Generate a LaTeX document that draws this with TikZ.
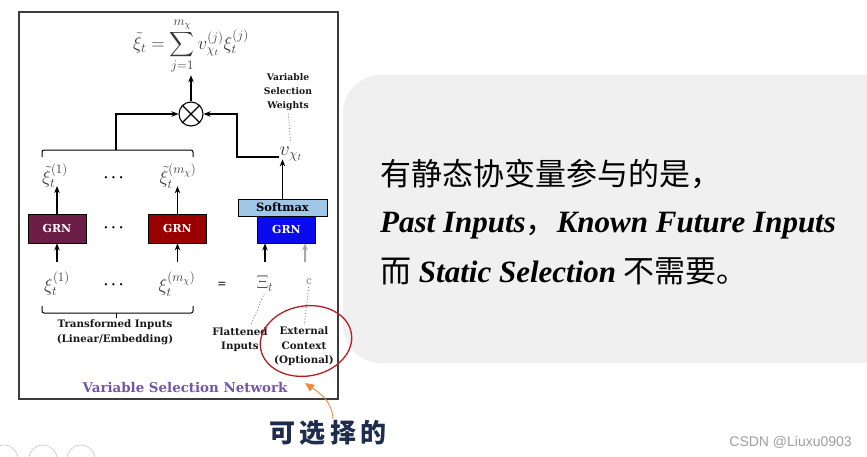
\RequirePackage{fix-cm}
\documentclass[tikz,border=0pt]{standalone}
\usepackage{amsmath}
\usepackage{fontspec}
\usetikzlibrary{arrows.meta,shapes.geometric}
\newfontfamily\labfont{DejaVu Serif}
\newfontfamily\cjkfont{Noto Sans CJK SC}
\newfontfamily\cjkhand[LetterSpace=16]{Noto Sans CJK SC}
\newfontfamily\timesfont{Liberation Serif}
\newfontfamily\wmfont{Liberation Sans}
\definecolor{framec}{HTML}{3C3C3C}
\definecolor{grnA}{HTML}{6B1D46}
\definecolor{grnB}{HTML}{9A0000}
\definecolor{grnC}{HTML}{0A0AEE}
\definecolor{softc}{HTML}{A0C6E8}
\definecolor{vsnc}{HTML}{7256A8}
\definecolor{circc}{HTML}{B21F24}
\definecolor{orangec}{HTML}{EE8A3E}
\definecolor{navyc}{HTML}{1E2C4E}
\definecolor{panelc}{HTML}{F0F0F0}
\definecolor{mathc}{HTML}{3A3A3A}
\tikzset{
 arr/.style={-{Stealth[length=7pt,width=5.5pt]},line width=1.1pt,black},
 lab/.style={font=\labfont\bfseries\fontsize{9.2}{14}\selectfont,align=center,inner sep=0pt,text=black!90},
 blab/.style={font=\labfont\bfseries\fontsize{10.3}{14.6}\selectfont,align=center,inner sep=0pt,text=black!90},
 grn/.style={draw=black,line width=0.8pt,minimum width=58pt,minimum height=29pt,inner sep=0pt,font=\labfont\bfseries\fontsize{11}{12}\selectfont,text=white},
 dotl/.style={dotted,line width=0.9pt,gray},
 mth/.style={text=mathc,inner sep=0pt,font=\fontsize{18.5}{22}\selectfont},
 dots/.style={inner sep=0pt,font=\fontsize{15}{16}\selectfont\boldmath},
 brk/.style={line width=1pt,rounded corners=2pt},
}
\begin{document}
\begin{tikzpicture}[x=1pt,y=-1pt]
\useasboundingbox (0,0) rectangle (867,456);
\fill[white] (0,0) rectangle (867,456);
% right panel
\fill[panelc,rounded corners=38pt] (343,75) rectangle (910,363);
% frame
\draw[framec,line width=1.4pt] (19,12) rectangle (338,399);
% formula
\node[mth] (formula) at (191,46) {$\displaystyle \tilde{\xi}_t=\sum_{j=1}^{m_\chi} v_{\chi_t}^{(j)}\xi_t^{(j)}$};
% otimes
\node[draw,circle,minimum size=24pt,inner sep=0pt,line width=1.1pt] (otimes) at (191,114) {};
\draw[line width=1.1pt] (otimes.north west) -- (otimes.south east) (otimes.north east) -- (otimes.south west);
\draw[arr] (otimes.north) -- ([yshift=-1pt]formula.south -| otimes.north);
% labels top right
\node[lab] (vsw) at (288,92) {Variable\\Selection\\Weights};
\node[mth,font=\fontsize{20}{22}\selectfont] (vchi) at (291,154) {$v_{\chi_t}$};
\draw[dotl,shorten <=3pt,shorten >=4pt] (vsw.south) -- (vchi.north);
% GRNs
\node[grn,fill=grnA] (g1) at (57,228.5) {GRN};
\node[grn,fill=grnB] (g2) at (177.5,228.5) {GRN};
\node[grn,fill=grnC,minimum height=27pt] (g3) at (286.5,229.5) {GRN};
\node[draw=black,line width=0.8pt,fill=softc,minimum width=89pt,minimum height=17pt,inner sep=0pt,font=\labfont\bfseries\fontsize{11.5}{12}\selectfont] (soft) at (282.5,207.5) {Softmax};
% xi tilde
\node[mth] (xt1) at (55,176) {$\tilde{\xi}_t^{(1)}$};
\node[mth] (xtm) at (178,176) {$\tilde{\xi}_t^{(m_\chi)}$};
\node[dots] (d1) at (115,178) {$\cdots$};
\node[dots] (d2) at (115,228) {$\cdots$};
\node[dots] (d3) at (115,285) {$\cdots$};
% bottom inputs
\node[mth] (x1) at (57,284) {$\xi_t^{(1)}$};
\node[mth] (xm) at (177,284) {$\xi_t^{(m_\chi)}$};
\node[inner sep=0pt,text=black!75,font=\labfont\bfseries\fontsize{11}{12}\selectfont] (eq) at (222,285) {=};
\node[mth,text=black!70] (Xi) at (265,284) {$\Xi_t$};
\node[inner sep=0pt,text=gray,font=\labfont\fontsize{10.5}{12}\selectfont] (cc) at (309,282) {c};
% arrows up
\draw[arr] (g1.north) -- ([yshift=2pt]xt1.south -| g1.north);
\draw[arr] (g2.north) -- ([yshift=2pt]xtm.south -| g2.north);
\draw[arr] ([yshift=-19pt]g1.south) -- (g1.south);
\draw[arr] ([yshift=-19pt]g2.south) -- (g2.south);
\draw[arr] ([yshift=-19pt]g3.south -| Xi.north) -- (g3.south -| Xi.north);
\draw[arr,gray!70] ([yshift=-19pt]g3.south -| 305,0) -- (g3.south -| 305,0);
\draw[arr] (soft.north) -- ([yshift=2pt]vchi.south -| soft.north);
% top bracket and links to otimes
\draw[brk] (42,157) -- (42,150) -- (193,150) -- (193,157);
\coordinate (bt) at (116,150);
\draw[arr] (bt) |- (otimes.west);
\coordinate (rc) at (237,157);
\draw[arr] (vchi.west |- rc) -- (rc) |- (otimes.east);
% bottom bracket
\draw[brk] (42,306) -- (42,313) -- (193,313) -- (193,306);
\draw[line width=1pt] (116,313) -- (116,318);
\node[blab] (ti) at (115,332.5) {Transformed Inputs\\(Linear/Embedding)};
\node[blab] (fi) at (240,339.5) {Flattened\\Inputs};
\node[blab] (ec) at (304,346.5) {External\\Context\\(Optional)};
\draw[dotl,shorten <=2pt,shorten >=2pt] (Xi.south) -- ([xshift=10pt]fi.north);
\draw[dotl,shorten <=2pt,shorten >=2pt] (cc.south) -- (ec.north);
\node[font=\labfont\bfseries\fontsize{13.4}{15}\selectfont,text=vsnc,inner sep=0pt] (vsn) at (185,387) {Variable Selection Network};
% red oval
\node[ellipse,draw=circc,line width=1.3pt,minimum width=92pt,minimum height=70pt,inner sep=0pt,rotate=10] (oval) at (306,341) {};
% handwritten note
\node[text=navyc,inner sep=0pt,font=\cjkhand\bfseries\fontsize{26}{28}\selectfont] (hand) at (328,433) {可选择的};
\coordinate (hs) at (333,419);
\coordinate (tip) at (305,383);
\draw[orangec,line width=0.9pt,-{Triangle[length=9pt,width=8pt]}] (hs) .. controls (332,400) and (318,392) .. (tip);
% right text
\node[anchor=base west,inner sep=0pt,font=\cjkfont\fontsize{31}{34}\selectfont] (l1) at (380,185) {有静态协变量参与的是，};
\node[anchor=base west,inner sep=0pt,font=\fontsize{31}{34}\selectfont] (l2) at (380,232) {{\timesfont\bfseries\itshape Past Inputs}{\cjkfont ，}{\timesfont\bfseries\itshape Known Future Inputs}};
\node[anchor=base west,inner sep=0pt,font=\fontsize{31}{34}\selectfont] (l3) at (380,282) {{\cjkfont 而}{\timesfont\bfseries\itshape{} Static Selection }{\cjkfont 不需要。}};
% watermark
\node[anchor=base east,inner sep=0pt,text=gray!75,font=\wmfont\fontsize{14}{16}\selectfont] (wm) at (852,446) {CSDN @Liuxu0903};
% faint UI circles
\draw[gray!35,line width=0.8pt] (4,459) circle (14) (43,459) circle (14) (81,459) circle (14);
\end{tikzpicture}
\end{document}
